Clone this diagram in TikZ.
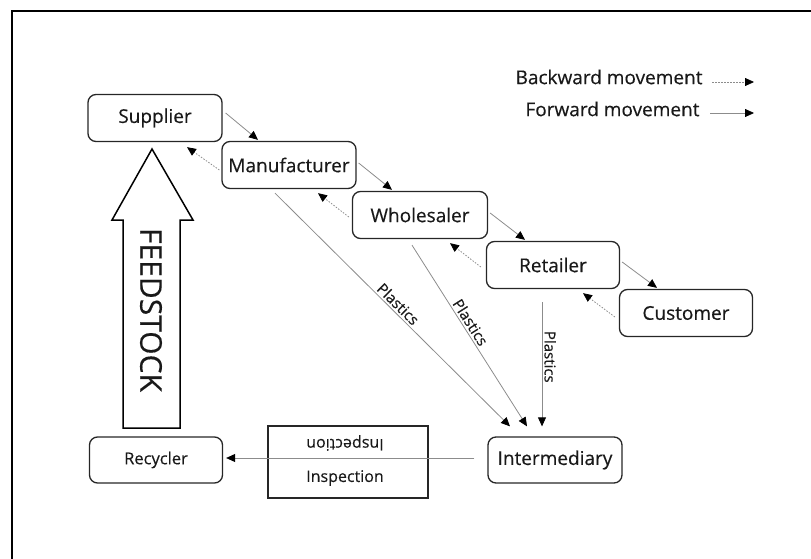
\documentclass[tikz,border=0pt]{standalone}
\usepackage{fontspec}
\setmainfont{Open Sans}[FakeBold=0.35]
\usetikzlibrary{arrows.meta,calc}
\begin{document}
\begin{tikzpicture}[x=1pt,y=-1pt,
  box/.style={draw=black!85,line width=1.3pt,rounded corners=8pt,minimum width=134pt,minimum height=47pt,inner sep=0pt,font=\fontsize{19}{21}\selectfont,text=black!90},
  fwd/.style={draw=black!45,line width=0.8pt,-{Triangle[length=9pt,width=8pt,black]}},
  bwd/.style={draw=black!45,line width=0.8pt,dash pattern=on 1.5pt off 1.5pt,-{Triangle[length=9pt,width=8pt,black]}},
  plab/.style={font=\fontsize{15}{16}\selectfont,sloped,above,inner sep=2pt,text=black!90}
]
\useasboundingbox (0,0) rectangle (811,559);
% frame
\draw[line width=2.2pt] (12,559) -- (12,11) -- (811,11);
% legend
\node[anchor=east,font=\fontsize{19}{21}\selectfont,text=black!90] (lb) at (706,77) {Backward movement};
\node[anchor=east,font=\fontsize{19}{21}\selectfont,text=black!90] (lf) at (703,109) {Forward movement};
\coordinate (lbe) at (754,82);
\coordinate (lfe) at (754,113);
\draw[bwd] ($(lb.east)+(6,5)$) -- (lbe);
\draw[fwd] ($(lf.east)+(7,4)$) -- (lfe);
% nodes
\node[box] (sup) at (155,118) {Supplier};
\node[box] (man) at (289,165) {Manufacturer};
\node[box,minimum width=135pt] (who) at (420,215) {Wholesaler};
\node[box,minimum width=133pt] (ret) at (553,265) {Retailer};
\node[box,minimum width=133pt] (cus) at (686,313) {Customer};
\node[box,minimum height=46pt] (int) at (555,460) {Intermediary};
\node[box,minimum width=133pt,minimum height=46pt,font=\fontsize{16.5}{18}\selectfont] (rec) at (156,460) {Recycler};
% inspection box
\node[draw=black!85,line width=1.5pt,minimum width=160pt,minimum height=72pt,inner sep=0pt] (insp) at (348,462) {};
\node[font=\fontsize{16}{18}\selectfont,rotate=180,text=black!90] (it1) at (345,443) {Inspection};
\node[font=\fontsize{16}{18}\selectfont,text=black!90] (it2) at (345,478) {Inspection};
% forward arrows
\draw[fwd] ($(sup.east)+(3,-5)$) -- ($(man.north)+(-31,-1)$);
\draw[fwd] ($(man.east)+(2,-2)$) -- ($(who.north)+(-28,-1)$);
\draw[fwd] ($(who.east)+(2,-2)$) -- ($(ret.north)+(-28,-1)$);
\draw[fwd] ($(ret.east)+(2,-3)$) -- ($(cus.north)+(-29,-1)$);
% backward arrows
\draw[bwd] ($(man.west)+(-2,5)$) -- ($(sup.south)+(32,5)$);
\draw[bwd] ($(who.west)+(-3,2)$) -- ($(man.south)+(29,4)$);
\draw[bwd] ($(ret.west)+(-5,2)$) -- ($(who.south)+(30,4)$);
\draw[bwd] ($(cus.west)+(-4,4)$) -- ($(ret.south)+(30,4)$);
% plastics
\draw[fwd] ($(man.south)+(-14,4)$) -- node[plab,pos=0.5] {Plastics} ($(int.north)+(-45,-10)$);
\draw[fwd] ($(who.south)+(-8,6)$) -- node[plab,pos=0.45] {Plastics} ($(int.north)+(-28,-10)$);
\draw[fwd] ($(ret.south)+(-11,13)$) -- node[plab,pos=0.44] {Plastics} ($(int.north)+(-13,-10)$);
% intermediary to recycler
\draw[fwd] ($(int.west)+(-13,-2)$) -- ($(rec.east)+(3,-2)$);
% feedstock arrow
\coordinate (ftip) at (152,149);
\draw[line width=1.5pt,line join=miter,fill=white]
  (ftip) -- (193,220) -- (180,220) -- (180,428) -- (123,428) -- (123,220) -- (112,220) -- cycle;
\node[rotate=-90,font=\fontsize{30}{32}\selectfont,text=black!90] (feed) at (151,310) {FEEDSTOCK};
\end{tikzpicture}
\end{document}
